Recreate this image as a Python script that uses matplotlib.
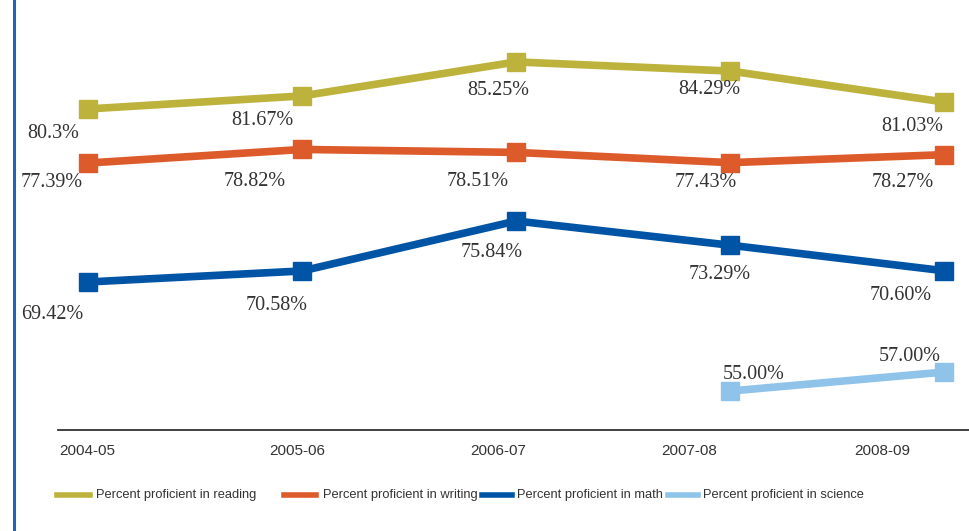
import matplotlib.pyplot as plt
from matplotlib.lines import Line2D
from matplotlib.transforms import ScaledTranslation

# School years on the x axis
years = ["2004-05", "2005-06", "2006-07", "2007-08", "2008-09"]

# Percent proficient per subject
reading = [80.3, 81.67, 85.25, 84.29, 81.03]
writing = [77.39, 78.82, 78.51, 77.43, 78.27]
math_pct = [69.42, 70.58, 75.84, 73.29, 70.60]
science = [None, None, None, 55.00, 57.00]

reading_labels = ["80.3%", "81.67%", "85.25%", "84.29%", "81.03%"]
writing_labels = ["77.39%", "78.82%", "78.51%", "77.43%", "78.27%"]
math_labels = ["69.42%", "70.58%", "75.84%", "73.29%", "70.60%"]
science_labels = [None, None, None, "55.00%", "57.00%"]

names = ["Percent proficient in reading", "Percent proficient in writing",
         "Percent proficient in math", "Percent proficient in science"]
colors = ["#BDB33C", "#DD5A2B", "#0054A5", "#8FC3EA"]

# each line sits in its own band, so each gets its own y range
y_ranges = [(46.5, 91.77), (49.29, 94.55), (53.84, 99.10), (50.9, 96.16)]

# label offsets in pixels (dx, dy to baseline), one per point
reading_off = [(-35, -29), (-40, -29), (-18, -33), (-21, -23), (-32, -29)]
writing_off = [(-36, -24), (-47, -37), (-38, -34), (-24, -24), (-42, -32)]
math_off = [(-36, -37), (-25, -39), (-24, -36), (-11, -34), (-44, -29)]
science_off = [None, None, None, (23, 12), (-35, 11)]

# year labels drift left of their points in the original
tick_shift = [-1, -5, -18, -41, -62]

serif = ["Liberation Serif", "DejaVu Serif"]
sans = ["Liberation Sans", "DejaVu Sans"]
text_color = "#333333"

fig = plt.figure(figsize=(9.7, 5.31), dpi=100)
ax = fig.add_axes([58 / 970, 101 / 531, 912 / 970, 430 / 531])

x = list(range(len(years)))
series = [(reading, reading_labels, reading_off),
          (writing, writing_labels, writing_off),
          (math_pct, math_labels, math_off),
          (science, science_labels, science_off)]

for k, ((vals, labels, offs), c) in enumerate(zip(series, colors)):
    a = ax if k == 0 else ax.twinx()
    a.set_ylim(*y_ranges[k])
    a.set_yticks([])
    for s in ["top", "left", "right"]:
        a.spines[s].set_visible(False)
    if k > 0:
        a.spines["bottom"].set_visible(False)
    xs = [i for i, v in zip(x, vals) if v is not None]
    ys = [v for v in vals if v is not None]
    a.plot(xs, ys, color=c, linewidth=5.5, marker="s", markersize=13,
           solid_joinstyle="miter")
    for i, v in zip(x, vals):
        if v is None:
            continue
        a.annotate(labels[i], (i, v), textcoords="offset pixels",
                   xytext=offs[i], ha="center", va="baseline",
                   fontsize=14.5, family=serif, color=text_color)

ax.set_xlim(-0.14, 4.12)
ax.set_xticks(x)
ax.set_xticklabels(years, family=sans, fontsize=11, color=text_color)
ax.tick_params(axis="x", length=0, pad=10)
for lab, dx in zip(ax.get_xticklabels(), tick_shift):
    lab.set_transform(lab.get_transform() +
                      ScaledTranslation(dx / 100, 0, fig.dpi_scale_trans))
ax.spines["bottom"].set_color("#333333")
ax.spines["bottom"].set_linewidth(1.3)

# legend along the bottom
handle_x = [(57, 90), (284, 316), (482, 512), (668, 698)]
text_x = [96, 323, 517, 703]
ly = 1 - 495 / 531
for (x0, x1), tx, name, c in zip(handle_x, text_x, names, colors):
    fig.add_artist(Line2D([x0 / 970, x1 / 970], [ly, ly], color=c,
                          linewidth=4, transform=fig.transFigure))
    fig.text(tx / 970, ly, name, ha="left", va="center", fontsize=9.3,
             family=sans, color=text_color)

# blue border on the left
fig.add_artist(Line2D([14 / 970, 14 / 970], [0, 1], color="#1F64B8",
                      linewidth=2.2, transform=fig.transFigure))

fig.savefig("out.png", dpi=100)
